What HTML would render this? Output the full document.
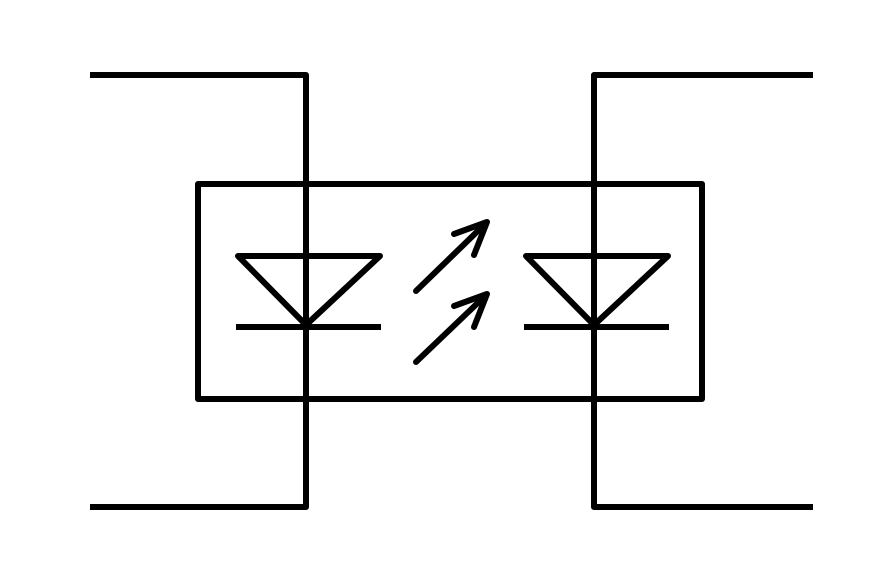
<!DOCTYPE html>
<html><head><style>html,body{margin:0;padding:0;background:#fff}</style></head>
<body>
<svg width="886" height="583" viewBox="0 0 886 583" xmlns="http://www.w3.org/2000/svg">
<g fill="none" stroke="#000" stroke-width="6" stroke-linejoin="round" stroke-linecap="butt">
<polyline points="90,75 306,75 306,507 90,507"/>
<polyline points="813,75 594,75 594,507 813,507"/>
<rect x="198" y="184" width="504" height="215"/>
<polygon points="238,256 380,256 306,325"/>
<line x1="236" y1="327" x2="381" y2="327"/>
<polygon points="526,256 668,256 594,325"/>
<line x1="524" y1="327" x2="669" y2="327"/>
<g stroke-linecap="round">
<line x1="416" y1="291" x2="485" y2="224"/>
<polyline points="454,234 487,222 474,255"/>
<line x1="416" y1="362" x2="485" y2="296"/>
<polyline points="454,306 487,294 474,327"/>
</g>
</g>
</svg>
</body></html>
